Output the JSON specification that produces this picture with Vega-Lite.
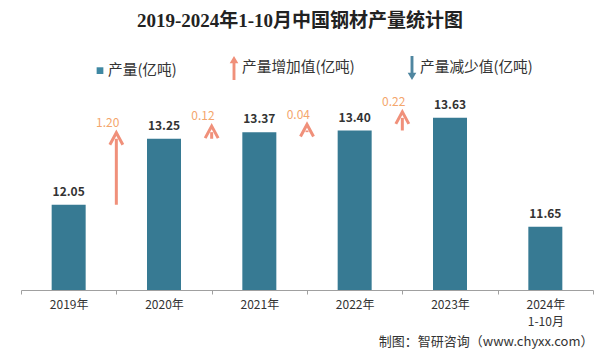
{
  "$schema": "https://vega.github.io/schema/vega-lite/v6.json",
  "width": 572,
  "height": 220,
  "autosize": "none",
  "padding": {"left": 21, "top": 70, "right": 11, "bottom": 71},
  "background": "white",
  "title": {
    "text": "2019-2024年1-10月中国钢材产量统计图",
    "font": "Liberation Serif, Noto Sans CJK SC",
    "fontSize": 19,
    "fontWeight": "bold",
    "color": "#222222",
    "anchor": "middle",
    "frame": "group",
    "dx": -7,
    "offset": 25
  },
  "config": {
    "view": {"stroke": null},
    "font": "Noto Sans CJK SC"
  },
  "datasets": {
    "bars": [
      {"year": "2019年", "value": 12.05},
      {"year": "2020年", "value": 13.25},
      {"year": "2021年", "value": 13.37},
      {"year": "2022年", "value": 13.40},
      {"year": "2023年", "value": 13.63},
      {"year": "2024年1-10月", "value": 11.65}
    ],
    "arrows": [
      {"from": "2019年", "lo": 12.05, "hi": 13.25, "d": "1.20"},
      {"from": "2020年", "lo": 13.25, "hi": 13.37, "d": "0.12"},
      {"from": "2021年", "lo": 13.37, "hi": 13.40, "d": "0.04"},
      {"from": "2022年", "lo": 13.40, "hi": 13.63, "d": "0.22"}
    ],
    "legend": [
      {"s": "产量(亿吨)"},
      {"s": "产量增加值(亿吨)"},
      {"s": "产量减少值(亿吨)"}
    ]
  },
  "layer": [
    {
      "data": {"name": "bars"},
      "mark": {"type": "bar", "width": 34, "color": "#377a93", "clip": true},
      "encoding": {
        "x": {
          "field": "year",
          "type": "nominal",
          "sort": null,
          "scale": {"paddingInner": 0, "paddingOuter": 0},
          "axis": {
            "title": "制图：智研咨询（www.chyxx.com）",
            "titleAnchor": "end",
            "titleFont": "Noto Sans CJK SC",
            "titleFontSize": 13,
            "titleFontWeight": "normal",
            "titleColor": "#333333",
            "titlePadding": 8,
            "tickBand": "extent",
            "tickSize": 4,
            "tickColor": "#a0a0a0",
            "domainColor": "#a0a0a0",
            "labelAngle": 0,
            "labelFont": "Noto Sans CJK SC",
            "labelFontSize": 12,
            "labelColor": "#333333",
            "labelPadding": 5,
            "labelLineHeight": 17,
            "labelExpr": "datum.value == '2024年1-10月' ? ['2024年', '1-10月'] : datum.value"
          }
        },
        "y": {
          "field": "value",
          "type": "quantitative",
          "scale": {"domain": [10.5, 14.5], "zero": false, "nice": false},
          "axis": null
        }
      }
    },
    {
      "data": {"name": "bars"},
      "mark": {"type": "text", "baseline": "bottom", "dy": -6, "fontSize": 12, "fontWeight": "bold", "color": "#333333"},
      "encoding": {
        "x": {"field": "year", "type": "nominal", "sort": null},
        "y": {"field": "value", "type": "quantitative"},
        "text": {"field": "value", "type": "quantitative", "format": ".2f"}
      }
    },
    {
      "data": {"name": "arrows"},
      "mark": {"type": "rule", "color": "#f0907a", "strokeWidth": 3},
      "encoding": {
        "x": {"field": "from", "type": "nominal", "bandPosition": 1},
        "y": {"field": "lo", "type": "quantitative"},
        "y2": {"field": "hi"}
      }
    },
    {
      "data": {"name": "arrows"},
      "mark": {
        "type": "point",
        "shape": "M-0.65,0.6L0,-0.6L0.65,0.6",
        "filled": false,
        "color": "#f0907a",
        "strokeWidth": 3,
        "size": 400,
        "opacity": 1
      },
      "encoding": {
        "x": {"field": "from", "type": "nominal", "bandPosition": 1},
        "y": {"field": "hi", "type": "quantitative"}
      }
    },
    {
      "data": {"name": "arrows"},
      "mark": {"type": "text", "align": "right", "baseline": "middle", "dx": 3, "dy": -16, "fontSize": 12, "color": "#f4a66c"},
      "encoding": {
        "x": {"field": "from", "type": "nominal", "bandPosition": 1},
        "y": {"field": "hi", "type": "quantitative"},
        "text": {"field": "d", "type": "nominal"}
      }
    },
    {
      "data": {"name": "legend"},
      "mark": {"type": "point", "filled": true, "opacity": 0},
      "encoding": {
        "color": {
          "field": "s",
          "type": "nominal",
          "sort": null,
          "scale": {
            "domain": ["产量(亿吨)", "产量增加值(亿吨)", "产量减少值(亿吨)"],
            "range": ["#3f88a3", "#f0907a", "#4f86a0"]
          },
          "legend": {
            "orient": "none",
            "legendX": 67,
            "legendY": -14,
            "direction": "horizontal",
            "title": null,
            "labelFont": "Noto Sans CJK SC",
            "labelFontSize": 14.7,
            "labelColor": "#333333",
            "labelOffset": -4,
            "columnPadding": 45,
            "symbolSize": 576,
            "symbolOpacity": 1,
            "symbolStrokeWidth": 0
          }
        },
        "shape": {
          "field": "s",
          "type": "nominal",
          "sort": null,
          "scale": {
            "domain": ["产量(亿吨)", "产量增加值(亿吨)", "产量减少值(亿吨)"],
            "range": [
              "M-0.28,-0.28L0.28,-0.28L0.28,0.28L-0.28,0.28Z",
              "M0,-1L0.36,-0.4L0.12,-0.4L0.12,1L-0.12,1L-0.12,-0.4L-0.36,-0.4Z",
              "M0,1L0.36,0.4L0.12,0.4L0.12,-1L-0.12,-1L-0.12,0.4L-0.36,0.4Z"
            ]
          },
          "legend": {
            "orient": "none",
            "legendX": 67,
            "legendY": -14,
            "direction": "horizontal",
            "title": null,
            "labelFont": "Noto Sans CJK SC",
            "labelFontSize": 14.7,
            "labelColor": "#333333",
            "labelOffset": -4,
            "columnPadding": 45,
            "symbolSize": 576,
            "symbolOpacity": 1,
            "symbolStrokeWidth": 0
          }
        }
      }
    }
  ]
}
